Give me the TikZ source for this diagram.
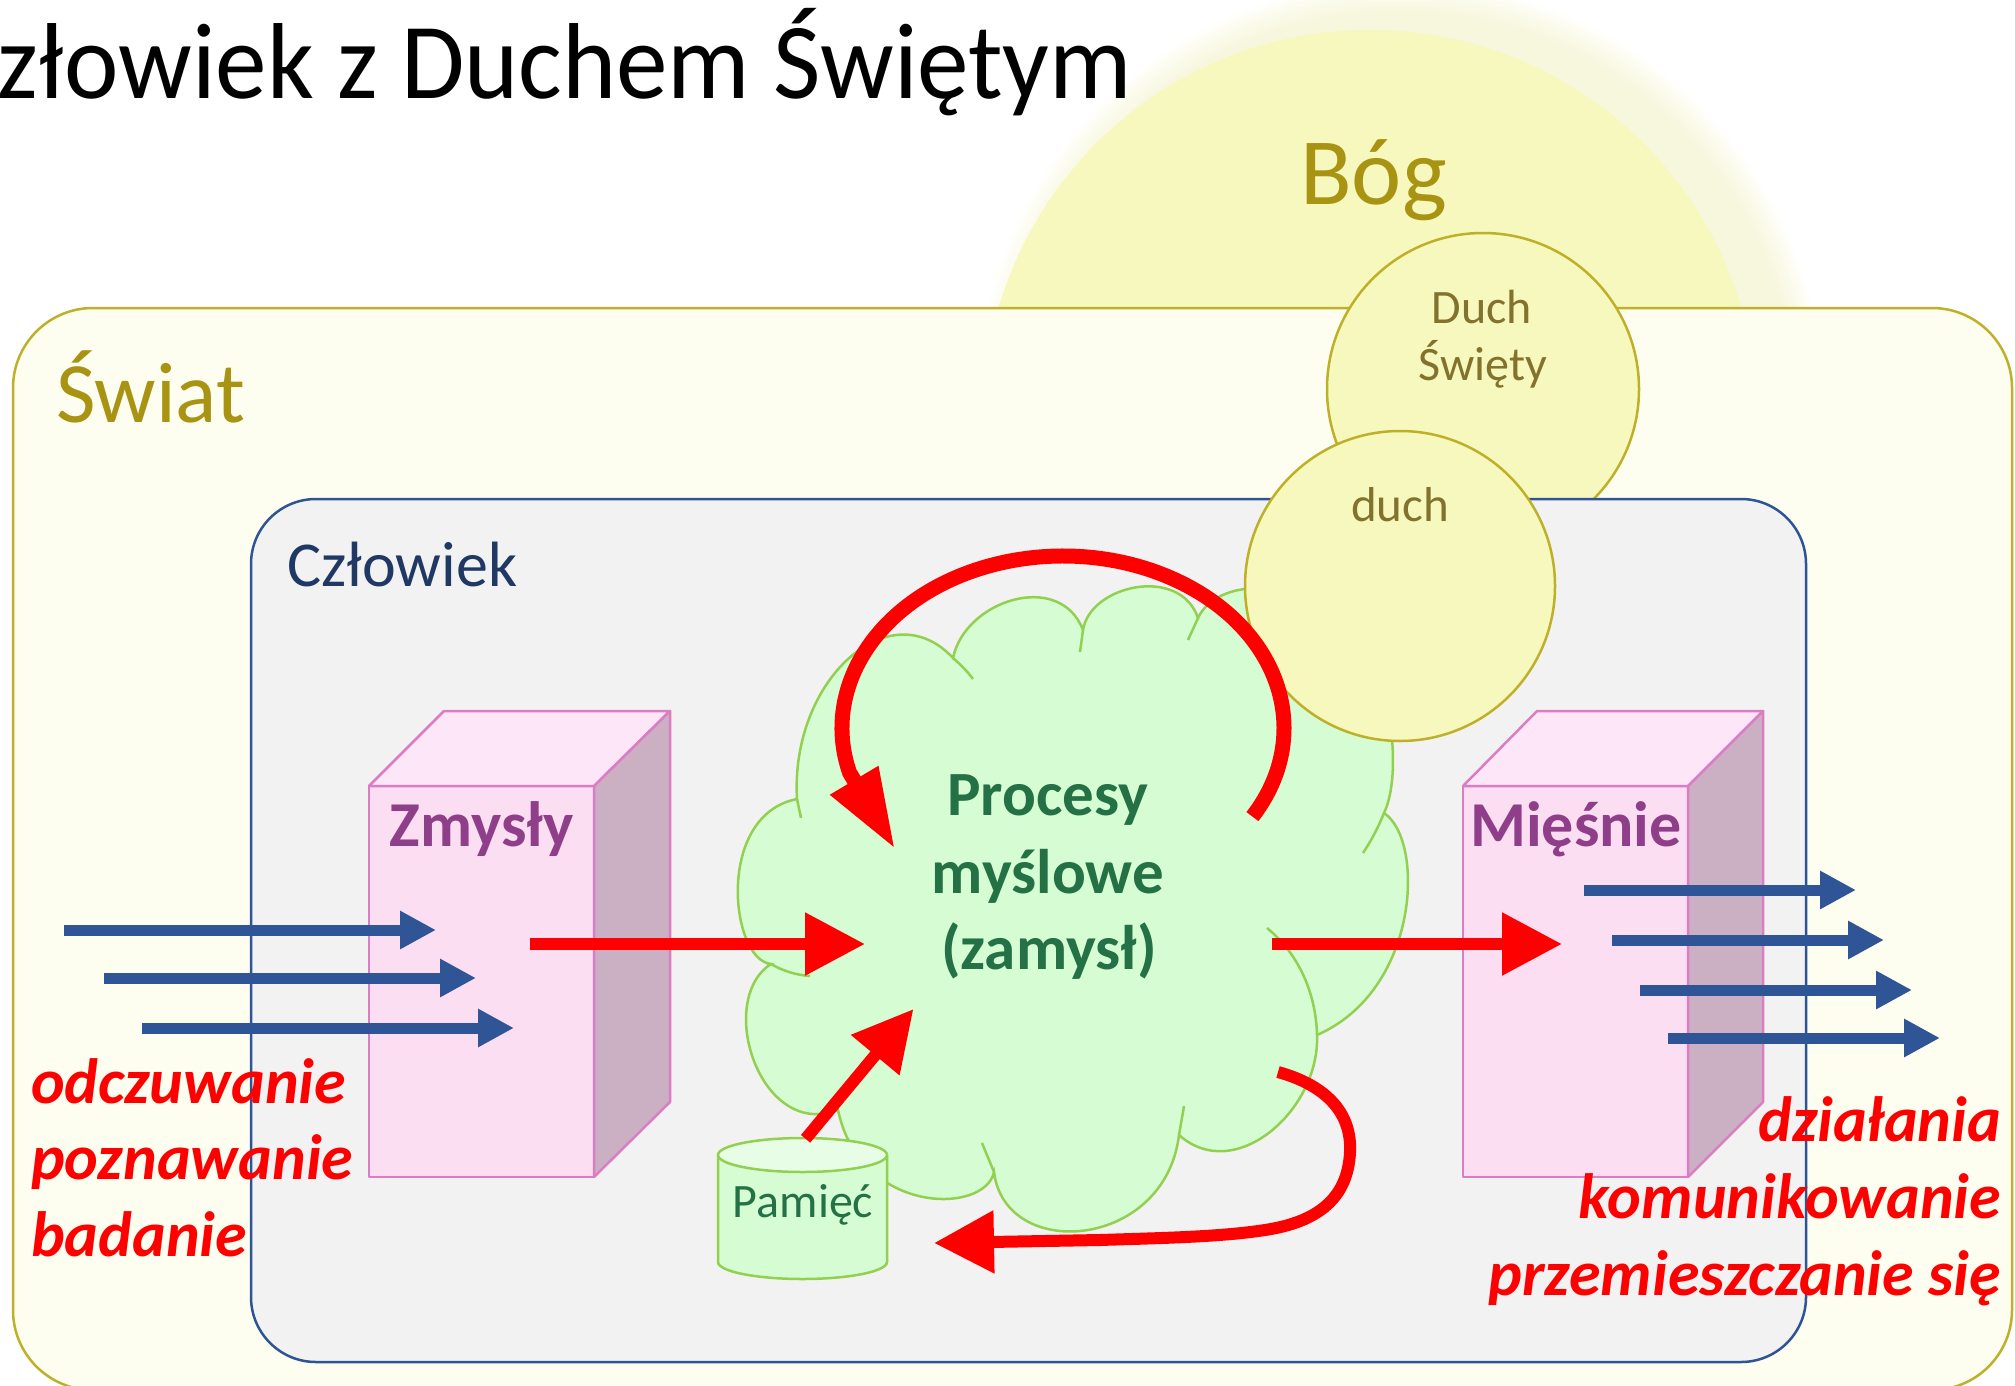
\documentclass[tikz,border=0pt]{standalone}
\usepackage{fontspec}
\setmainfont{Carlito}
\usepackage{graphicx}
\usetikzlibrary{arrows.meta}

\definecolor{bogfill}{RGB}{247,248,189}
\definecolor{glowc}{RGB}{245,247,190}
\definecolor{bogtxt}{RGB}{168,148,18}
\definecolor{worldfill}{RGB}{254,254,240}
\definecolor{worldline}{RGB}{190,176,40}
\definecolor{manfill}{RGB}{242,242,242}
\definecolor{manline}{RGB}{47,84,150}
\definecolor{mantxt}{RGB}{31,56,100}
\definecolor{pinkfront}{RGB}{252,222,243}
\definecolor{pinktop}{RGB}{253,230,247}
\definecolor{pinkside}{RGB}{203,176,196}
\definecolor{pinkline}{RGB}{220,125,195}
\definecolor{purpletxt}{RGB}{143,63,137}
\definecolor{cloudfill}{RGB}{214,252,212}
\definecolor{cloudline}{RGB}{146,208,80}
\definecolor{greentxt}{RGB}{36,113,70}
\definecolor{duchtxt}{RGB}{130,114,45}
\definecolor{bluearr}{RGB}{47,85,151}
\definecolor{redarr}{RGB}{255,0,0}
\definecolor{cyltopc}{RGB}{232,253,230}

\tikzset{
  worldbox/.style={fill=worldfill, draw=worldline, line width=2.5pt, rounded corners=80pt},
  manbox/.style={fill=manfill, draw=manline, line width=2.5pt, rounded corners=65pt},
  yellowcirc/.style={fill=bogfill, draw=worldline, line width=2.5pt},
  cubefront/.style={fill=pinkfront, draw=pinkline, line width=2.5pt, line join=round},
  cubetop/.style={fill=pinktop, draw=pinkline, line width=2.5pt, line join=round},
  cubeside/.style={fill=pinkside, draw=pinkline, line width=2.5pt, line join=round},
  cloudshape/.style={fill=cloudfill, draw=cloudline, line width=2.5pt},
  cloudinner/.style={draw=cloudline, line width=2.5pt},
  cylbody/.style={fill=cloudfill, draw=cloudline, line width=2.5pt},
  cyltop/.style={fill=cyltopc, draw=cloudline, line width=2.5pt},
  bluearrow/.style={draw=bluearr, line width=11pt, -{Triangle[length=36pt,width=36pt]}},
  redarrow/.style={draw=redarr, line width=12pt, -{Triangle[length=60pt,width=60pt]}},
  loopstyle/.style={draw=redarr, line width=15pt, -{Triangle[length=80pt,width=52pt]}},
  txt/.style={inner sep=0pt, outer sep=0pt},
  boldlabel/.style={txt, font=\fontsize{64}{76}\selectfont\bfseries},
  greenlabel/.style={txt, text=greentxt, font=\fontsize{63}{74}\selectfont\bfseries},
  redlabel/.style={txt, text=redarr, font=\fontsize{64}{76}\selectfont\bfseries\itshape},
}

\begin{document}
\begin{tikzpicture}[x=1pt,y=-1pt]
\useasboundingbox (0,0) rectangle (2015,1386);
\fill[white] (0,0) rectangle (2015,1386);

% Bog glow and circle
\foreach \k in {1,...,9} {
  \fill[glowc, opacity=0.07] (1400,405) circle[radius=387+4*\k];
}
\fill[bogfill] (1370,417) circle[radius=387];

% World
\path[worldbox] (13,308) rectangle (2012,1390);

% Duch Swiety circle
\path[yellowcirc] (1483,389) circle[radius=156];

% Czlowiek
\path[manbox] (251,499) rectangle (1806,1362);

% Zmysly cuboid
\path[cubefront] (369,786) rectangle (594,1177);
\path[cubetop] (369,786) -- (444,711) -- (670,711) -- (594,786) -- cycle;
\path[cubeside] (594,786) -- (670,711) -- (670,1102) -- (594,1177) -- cycle;

% Miesnie cuboid
\path[cubefront] (1463,786) rectangle (1688,1177);
\path[cubetop] (1463,786) -- (1537,711) -- (1763,711) -- (1688,786) -- cycle;
\path[cubeside] (1688,786) -- (1763,711) -- (1763,1102) -- (1688,1177) -- cycle;

% Cloud
\path[cloudshape] (771,964)
  .. controls (730,960) and (715,815) .. (797,799)
  .. controls (790,680) and (890,590) .. (953,658)
  .. controls (965,600) and (1060,570) .. (1083,630)
  .. controls (1090,585) and (1180,565) .. (1198,618)
  .. controls (1215,580) and (1300,570) .. (1330,640)
  .. controls (1390,640) and (1405,770) .. (1384,813)
  .. controls (1425,840) and (1420,990) .. (1317,1035)
  .. controls (1320,1110) and (1235,1185) .. (1179,1135)
  .. controls (1165,1250) and (1005,1262) .. (994,1172)
  .. controls (985,1215) and (860,1215) .. (838,1110)
  .. controls (760,1140) and (715,1000) .. (771,964)
  -- cycle;
\path[cloudinner] (797,799) -- (801,818);
\path[cloudinner] (953,658) .. controls (961,665) and (967,671) .. (973,679);
\path[cloudinner] (1083,630) -- (1080,652);
\path[cloudinner] (1198,618) -- (1188,640);
\path[cloudinner] (1384,813) .. controls (1378,828) and (1371,841) .. (1363,853);
\path[cloudinner] (1317,1035) .. controls (1316,995) and (1300,955) .. (1267,928);
\path[cloudinner] (1179,1135) -- (1184,1106);
\path[cloudinner] (994,1172) -- (982,1143);
\path[cloudinner] (771,964) .. controls (783,971) and (796,975) .. (810,976);

% duch circle
\path[yellowcirc] (1400,586) circle[radius=155];

% Pamiec cylinder
\path[cylbody] (718,1155) -- (718,1262) arc[start angle=180, end angle=0, x radius=84.5, y radius=17] -- (887,1155);
\path[cyltop] (802.5,1155) ellipse[x radius=84.5, y radius=17];

% connector end points
\coordinate (inA1) at (64,930);   \coordinate (inB1) at (436,930);
\coordinate (inA2) at (104,978);  \coordinate (inB2) at (476,978);
\coordinate (inA3) at (142,1028); \coordinate (inB3) at (514,1028);
\coordinate (outA1) at (1584,890);  \coordinate (outB1) at (1856,890);
\coordinate (outA2) at (1612,940);  \coordinate (outB2) at (1884,940);
\coordinate (outA3) at (1640,990);  \coordinate (outB3) at (1912,990);
\coordinate (outA4) at (1668,1038); \coordinate (outB4) at (1940,1038);
\coordinate (zmS) at (530,944);   \coordinate (zmT) at (865,944);
\coordinate (miS) at (1272,944);  \coordinate (miT) at (1562,944);
\coordinate (paS) at (805.6,1138.8); \coordinate (paT) at (913.5,1009);
\coordinate (loopS) at (1252.4,816.6); \coordinate (loopT) at (895,849);
\coordinate (hookS) at (1278,1072); \coordinate (hookT) at (934,1243);

% blue arrows
\draw[bluearrow] (inA1) -- (inB1);
\draw[bluearrow] (inA2) -- (inB2);
\draw[bluearrow] (inA3) -- (inB3);
\draw[bluearrow] (outA1) -- (outB1);
\draw[bluearrow] (outA2) -- (outB2);
\draw[bluearrow] (outA3) -- (outB3);
\draw[bluearrow] (outA4) -- (outB4);

% red arrows
\draw[redarrow] (zmS) -- (zmT);
\draw[redarrow] (miS) -- (miT);
\draw[redarrow] (paS) -- (paT);
\draw[loopstyle] (loopS) arc[start angle=31, end angle=-195, x radius=221, y radius=172] -- (loopT);
\draw[redarrow] (hookS) .. controls (1325,1085) and (1352,1112) .. (1350,1152)
  .. controls (1348,1198) and (1318,1222) .. (1265,1230)
  .. controls (1220,1237) and (1160,1238) .. (1100,1240) -- (hookT);

% texts
\node[txt, anchor=base west, font=\fontsize{108}{120}\selectfont] (title) at (-2,99) {\scalebox{0.955}[1]{złowiek z Duchem Świętym}};
\node[txt, anchor=base, text=bogtxt, font=\fontsize{95}{110}\selectfont] (bog) at (1373.5,204) {Bóg};
\node[txt, anchor=base west, text=bogtxt, font=\fontsize{86}{100}\selectfont] (swiat) at (56,422) {Świat};
\node[txt, anchor=base west, text=mantxt, font=\fontsize{64}{76}\selectfont] (czl) at (287,586) {Człowiek};
\node[txt, anchor=base, text=duchtxt, font=\fontsize{48}{56}\selectfont] (ds1) at (1482,323) {Duch};
\node[txt, anchor=base, text=duchtxt, font=\fontsize{48}{56}\selectfont] (ds2) at (1483,380) {Święty};
\node[txt, anchor=base, text=duchtxt, font=\fontsize{49}{56}\selectfont] (duch) at (1400,521) {duch};
\node[boldlabel, anchor=base, text=purpletxt] (zmy) at (482,846) {Zmysły};
\node[boldlabel, anchor=base, text=purpletxt] (mie) at (1576,846) {Mięśnie};
\node[greenlabel, anchor=base] (pr1) at (1048,815) {Procesy};
\node[greenlabel, anchor=base] (pr2) at (1048,893) {myślowe};
\node[greenlabel, anchor=base] (pr3) at (1049,969) {(zamysł)};
\node[txt, anchor=base, text=greentxt, font=\fontsize{48}{56}\selectfont] (pam) at (803,1217) {Pamięć};
\node[redlabel, anchor=base west] (l1) at (31,1103) {odczuwanie};
\node[redlabel, anchor=base west] (l2) at (31,1179) {poznawanie};
\node[redlabel, anchor=base west] (l3) at (31,1256) {badanie};
\node[redlabel, anchor=base east] (r1) at (2001,1141.5) {działania};
\node[redlabel, anchor=base east] (r2) at (2001,1218) {komunikowanie};
\node[redlabel, anchor=base east] (r3) at (2001,1295) {przemieszczanie się};
\end{tikzpicture}
\end{document}
